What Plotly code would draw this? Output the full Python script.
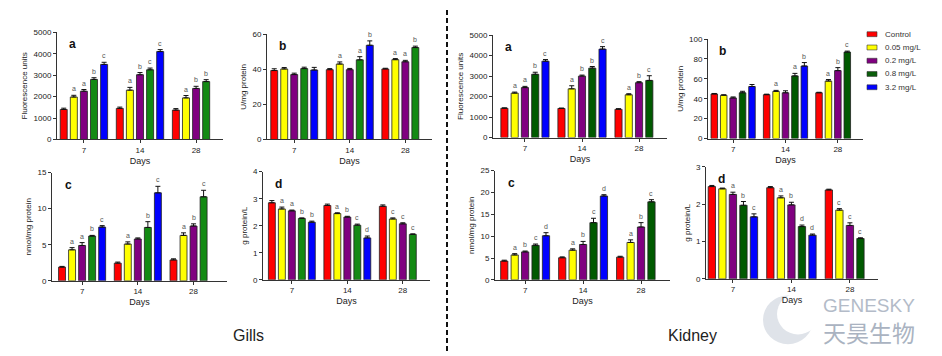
import plotly.graph_objects as go

W, H = 942, 356

days = ["7", "14", "28"]
series = ["Control", "0.05 mg/L", "0.2 mg/L", "0.8 mg/L", "3.2 mg/L"]
colors_gills = ["#ff0000", "#ffff00", "#800080", "#138a13", "#0000ff"]
colors_kidney = ["#ff0000", "#ffff00", "#800080", "#005a00", "#0000ff"]
legend_colors = ["#ff0000", "#ffff00", "#800080", "#0b5e0b", "#0000ff"]

# ---- Gills ----
gills_a_mean = [[1400, 1450, 1370], [1980, 2300, 1940], [2250, 3020, 2380], [2800, 3250, 2700], [3500, 4100, None]]
gills_a_err = [[60, 60, 70], [80, 130, 110], [80, 100, 100], [80, 80, 90], [100, 90, None]]
gills_a_sig = [["", "", ""], ["a", "a", "a"], ["a", "b", "b"], ["b", "c", "b"], ["c", "c", ""]]

gills_b_mean = [[39.3, 39.8, 40.2], [40.2, 43.0, 45.5], [37.0, 39.8, 44.3], [40.4, 45.4, 52.4], [39.6, 53.7, None]]
gills_b_err = [[1.0, 0.6, 0.4], [0.8, 1.2, 0.6], [0.8, 0.7, 0.8], [0.8, 1.8, 0.8], [1.5, 2.5, None]]
gills_b_sig = [["", "", ""], ["", "a", "a"], ["", "", "a"], ["", "a", "b"], ["", "b", ""]]

gills_c_mean = [[1.9, 2.45, 2.9], [4.3, 5.1, 6.3], [4.9, 5.8, 7.6], [6.2, 7.4, 11.65], [7.45, 12.2, None]]
gills_c_err = [[0.1, 0.15, 0.15], [0.3, 0.3, 0.35], [0.4, 0.15, 0.3], [0.1, 0.8, 0.9], [0.2, 0.9, None]]
gills_c_sig = [["", "", ""], ["a", "a", "a"], ["a", "", "b"], ["b", "b", "c"], ["c", "c", ""]]

gills_d_mean = [[2.85, 2.75, 2.72], [2.62, 2.45, 2.25], [2.55, 2.32, 2.07], [2.27, 2.02, 1.68], [2.13, 1.55, None]]
gills_d_err = [[0.08, 0.05, 0.05], [0.07, 0.03, 0.04], [0.03, 0.03, 0.04], [0.02, 0.04, 0.02], [0.04, 0.07, None]]
gills_d_sig = [["", "", ""], ["a", "a", "c"], ["a", "b", "c"], ["b", "c", "c"], ["b", "d", ""]]

# ---- Kidney ----
kidney_a_mean = [[1430, 1420, 1380], [2170, 2380, 2090], [2440, 3000, 2680], [3090, 3390, 2790], [3730, 4320, None]]
kidney_a_err = [[20, 20, 30], [50, 150, 50], [60, 50, 50], [100, 80, 230], [80, 120, None]]
kidney_a_sig = [["", "", ""], ["a", "a", "a"], ["a", "b", "b"], ["b", "b", "c"], ["c", "c", ""]]

kidney_b_mean = [[44.8, 44.1, 46.0], [43.5, 47.4, 57.8], [40.8, 46.0, 68.3], [46.0, 63.0, 86.9], [52.3, 72.9, None]]
kidney_b_err = [[0.5, 0.5, 0.5], [0.5, 1.0, 1.5], [1.0, 2.0, 3.0], [1.5, 2.5, 1.0], [2.0, 3.5, None]]
kidney_b_sig = [["", "", ""], ["", "a", "a"], ["", "", "b"], ["", "a", "c"], ["", "b", ""]]

kidney_c_mean = [[4.3, 5.06, 5.2], [5.7, 6.8, 8.56], [6.4, 8.1, 12.1], [7.9, 13.1, 17.86], [10.1, 19.2, None]]
kidney_c_err = [[0.2, 0.2, 0.2], [0.3, 0.3, 0.6], [0.2, 0.7, 1.0], [0.3, 1.0, 0.5], [0.7, 0.3, None]]
kidney_c_sig = [["", "", ""], ["a", "a", "a"], ["b", "b", "b"], ["c", "c", "c"], ["d", "d", ""]]

kidney_d_mean = [[2.47, 2.44, 2.38], [2.41, 2.17, 1.84], [2.26, 1.98, 1.43], [1.97, 1.40, 1.08], [1.66, 1.17, None]]
kidney_d_err = [[0.03, 0.03, 0.02], [0.02, 0.05, 0.04], [0.06, 0.07, 0.07], [0.10, 0.04, 0.02], [0.08, 0.03, None]]
kidney_d_sig = [["", "", ""], ["", "a", "c"], ["a", "b", "c"], ["b", "d", "c"], ["c", "d", ""]]

FONT = "Arial, Liberation Sans, sans-serif"

# panel: data, colors, pixel box (x0, x1, ytop, ybottom), x range, ymax, dtick, y title, letter
panels = [
    (gills_a_mean, gills_a_err, gills_a_sig, colors_gills, (57, 223, 29, 139), (-0.48, 2.48), 5000, 1000, "Fluorescence units", "a"),
    (gills_b_mean, gills_b_err, gills_b_sig, colors_gills, (267, 432, 31, 139), (-0.49, 2.48), 60, 20, "U/mg protein", "b"),
    (gills_c_mean, gills_c_err, gills_c_sig, colors_gills, (52, 227, 173, 284), (-0.54, 2.6), 15, 5, "nmol/mg protein", "c"),
    (gills_d_mean, gills_d_err, gills_d_sig, colors_gills, (263, 430, 172, 283), (-0.52, 2.49), 4, 1, "g protein/L", "d"),
    (kidney_a_mean, kidney_a_err, kidney_a_sig, colors_kidney, (493, 667, 32, 137), (-0.56, 2.49), 5000, 1000, "Fluorescence units", "a"),
    (kidney_b_mean, kidney_b_err, kidney_b_sig, colors_kidney, (708, 863, 36, 138), (-0.48, 2.48), 100, 20, "U/mg protein", "b"),
    (kidney_c_mean, kidney_c_err, kidney_c_sig, colors_kidney, (495, 670, 171, 283), (-0.52, 2.5), 25, 5, "nmol/mg protein", "c"),
    (kidney_d_mean, kidney_d_err, kidney_d_sig, colors_kidney, (706, 878, 167, 282), (-0.46, 2.48), 3, 1, "g protein/L", "d"),
]

SLOT = 0.18
BARW = 0.125

fig = go.Figure()
annotations = []
shapes = []
layout_axes = {}

for p, (mean, err, sig, cols, box, xr, ymax, dt, ytitle, letter) in enumerate(panels):
    sfx = "" if p == 0 else str(p + 1)
    x0, x1, yt, yb = box
    for s in range(len(series)):
        xs = [k + (s - 2) * SLOT for k in range(len(days))]
        errs = [e if e is not None else 0 for e in err[s]]
        fig.add_trace(go.Bar(
            x=xs, y=mean[s], width=BARW, name=series[s], showlegend=False,
            marker=dict(color=cols[s], line=dict(color="#222", width=0.8)),
            error_y=dict(type="data", array=errs, arrayminus=[0] * len(errs), symmetric=False,
                         color="#111", thickness=1, width=2.5),
            xaxis="x" + sfx, yaxis="y" + sfx, hoverinfo="skip",
        ))
        for k in range(len(days)):
            if mean[s][k] is not None and sig[s][k]:
                annotations.append(dict(
                    x=xs[k], y=mean[s][k] + errs[k], xref="x" + sfx, yref="y" + sfx,
                    text=sig[s][k], showarrow=False, yanchor="bottom", yshift=1,
                    font=dict(family=FONT, size=7, color="#555555"),
                ))
    layout_axes["xaxis" + sfx] = dict(
        domain=[x0 / W, x1 / W], range=list(xr), anchor="y" + sfx,
        tickvals=[0, 1, 2], ticktext=days, showline=True, linecolor="#333", linewidth=1,
        ticks="outside", ticklen=3, tickcolor="#333", showgrid=False, zeroline=False,
        tickfont=dict(family=FONT, size=8, color="#222"),
        title=dict(text="Days", font=dict(family=FONT, size=9, color="#222"), standoff=3),
    )
    layout_axes["yaxis" + sfx] = dict(
        domain=[1 - yb / H, 1 - yt / H], range=[0, ymax], dtick=dt, anchor="x" + sfx,
        showline=True, linecolor="#333", linewidth=1, ticks="outside", ticklen=3, tickcolor="#333",
        showgrid=False, zeroline=False,
        tickfont=dict(family=FONT, size=8, color="#222"),
        title=dict(text=ytitle, font=dict(family=FONT, size=8, color="#222"), standoff=4),
    )
    annotations.append(dict(
        x=0.06, y=0.97, xref="x" + sfx + " domain", yref="y" + sfx + " domain",
        text="<b>" + letter + "</b>", showarrow=False, xanchor="left", yanchor="top",
        font=dict(family=FONT, size=12, color="#111"),
    ))

# section labels
annotations.append(dict(x=231 / W, y=1 - 340 / H, xref="paper", yref="paper", text="Gills",
                        showarrow=False, xanchor="left", yanchor="middle",
                        font=dict(family=FONT, size=16, color="#222")))
annotations.append(dict(x=666 / W, y=1 - 340 / H, xref="paper", yref="paper", text="Kidney",
                        showarrow=False, xanchor="left", yanchor="middle",
                        font=dict(family=FONT, size=16, color="#222")))

# legend (manual)
for i, name in enumerate(series):
    cy = 31 + i * 13.6
    shapes.append(dict(type="rect", xref="paper", yref="paper",
                       x0=867 / W, x1=877 / W, y0=1 - (cy + 2.5) / H, y1=1 - (cy - 2.5) / H,
                       fillcolor=legend_colors[i], line=dict(color="#333", width=0.6)))
    annotations.append(dict(x=883 / W, y=1 - cy / H, xref="paper", yref="paper", text=name,
                            showarrow=False, xanchor="left", yanchor="middle",
                            font=dict(family=FONT, size=8, color="#333")))

# dashed separator
shapes.append(dict(type="line", xref="paper", yref="paper", x0=447 / W, x1=447 / W,
                   y0=0, y1=1 - 5 / H, line=dict(color="#111", width=2, dash="5px,3px")))

# watermark
shapes.append(dict(type="circle", xref="paper", yref="paper", layer="below",
                   x0=763 / W, x1=813 / W, y0=1 - 349 / H, y1=1 - 299 / H,
                   fillcolor="#dfe3e9", line=dict(width=0)))
shapes.append(dict(type="circle", xref="paper", yref="paper", layer="below",
                   x0=777 / W, x1=819 / W, y0=1 - 339 / H, y1=1 - 297 / H,
                   fillcolor="#ffffff", line=dict(width=0)))
annotations.append(dict(x=869 / W, y=1 - 309 / H, xref="paper", yref="paper", text="GENESKY",
                        showarrow=False, xanchor="center", yanchor="middle",
                        font=dict(family=FONT, size=19, color="#b3bbc8")))
annotations.append(dict(x=869 / W, y=1 - 337 / H, xref="paper", yref="paper", text="天昊生物",
                        showarrow=False, xanchor="center", yanchor="middle",
                        font=dict(family="Noto Sans CJK SC", size=23, color="#aab3c1")))

fig.update_layout(
    width=W, height=H, autosize=False,
    margin=dict(l=0, r=0, t=0, b=0),
    paper_bgcolor="white", plot_bgcolor="rgba(0,0,0,0)",
    barmode="overlay", showlegend=False,
    annotations=annotations, shapes=shapes,
    font=dict(family=FONT),
    **layout_axes,
)

fig.write_html("out.html", config={"displayModeBar": False},
               post_script="document.body.style.margin='0px';")
